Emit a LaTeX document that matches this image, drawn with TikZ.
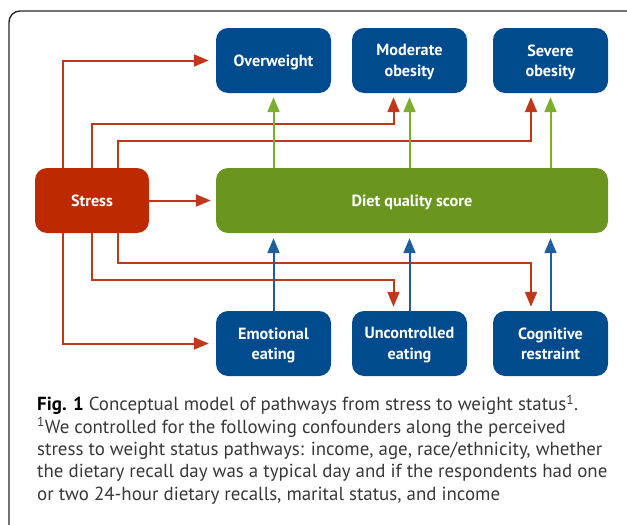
\documentclass[tikz,border=0pt]{standalone}
\usepackage{fontspec}
\setmainfont{PT Sans}
\usetikzlibrary{arrows.meta}

\definecolor{stressred}{HTML}{BD2A00}
\definecolor{boxblue}{HTML}{004B8D}
\definecolor{dietgreen}{HTML}{6A961F}
\definecolor{linered}{HTML}{C0381A}
\definecolor{lineblue}{HTML}{1F5E9C}
\definecolor{linegreen}{HTML}{7BAE2E}
\definecolor{captext}{HTML}{383838}

\tikzset{
  box/.style={rounded corners=12pt, text=white, inner sep=0pt, align=center,
    text depth=0pt, font=\bfseries\fontsize{16.2}{20.5}\selectfont},
  outbox/.style={box, fill=boxblue, minimum width=115pt, minimum height=65pt},
  tip/.style={-{Triangle[length=15pt,width=12pt]}},
  redarrow/.style={tip, draw=linered, line width=2pt, shorten >=5pt},
  greenarrow/.style={tip, draw=linegreen, line width=2pt, shorten >=4pt},
  bluearrow/.style={tip, draw=lineblue, line width=2pt, shorten >=5pt}
}

\begin{document}
\begin{tikzpicture}[x=1pt, y=-1pt]
            \useasboundingbox (0,0) rectangle (627,525);

            % frame
            \draw[line width=1.4pt, black!85, rounded corners=11pt] (9,525) -- (9,11) -- (627,11);

            % Define nodes
            \node[outbox] (over) at (273.5,60.5) {Overweight};
            \node[outbox] (mod) at (409.5,60.5) {Moderate\\obesity};
            \node[outbox] (sev) at (550.5,60.5) {Severe\\obesity};
            \node[box, fill=stressred, minimum width=114pt, minimum height=65pt] (stress) at (92,200.5) {Stress};
            \node[box, fill=dietgreen, minimum width=392pt, minimum height=65pt] (diet) at (412,200.5) {Diet quality score};
            \node[outbox] (emo) at (273.5,343.5) {Emotional\\eating};
            \node[outbox] (unc) at (409.5,343.5) {Uncontrolled\\eating};
            \node[outbox] (cog) at (550.5,343.5) {Cognitive\\restraint};

            \coordinate (s1) at (63,168);
            \coordinate (s2) at (92,168);
            \coordinate (s3) at (118,168);
            \coordinate (t1) at (63,233);
            \coordinate (t2) at (92,233);
            \coordinate (t3) at (118,233);

            % Draw edges
            \draw[redarrow] (stress) -- (diet);
            \draw[redarrow, shorten >=7pt] (s1) |- (over.west);
            \draw[redarrow, shorten >=4pt] (s2) -- ++(0,-44) -| ([xshift=-16pt]mod.south);
            \draw[redarrow, shorten >=4pt] (s3) -- ++(0,-27) -| ([xshift=-19.5pt]sev.south);
            \draw[redarrow, shorten >=7pt] (t1) |- (emo.west);
            \draw[redarrow, shorten >=4pt] (t2) -- ++(0,47) -| ([xshift=-16pt]unc.north);
            \draw[redarrow, shorten >=4pt] (t3) -- ++(0,30) -| ([xshift=-19.5pt]cog.north);

            \draw[greenarrow] (over.south |- diet.north) -- (over.south);
            \draw[greenarrow] (mod.south |- diet.north) -- (mod.south);
            \draw[greenarrow] (sev.south |- diet.north) -- (sev.south);

            \draw[bluearrow] (emo.north) -- (emo.north |- diet.south);
            \draw[bluearrow] (unc.north) -- (unc.north |- diet.south);
            \draw[bluearrow] (cog.north) -- (cog.north |- diet.south);

            % caption
            \node[anchor=north west, align=left, inner sep=0pt, text=captext,
              font=\fontsize{18.9}{22.3}\selectfont] (caption) at (37,395)
              {{\color{black}\bfseries Fig. 1} Conceptual model of pathways from stress to weight status\textsuperscript{1}.\\
               \textsuperscript{1}We controlled for the following confounders along the perceived\\
               stress to weight status pathways: income, age, race/ethnicity, whether\\
               the dietary recall day was a typical day and if the respondents had one\\
               or two 24-hour dietary recalls, marital status, and income};

        \end{tikzpicture}
\end{document}
